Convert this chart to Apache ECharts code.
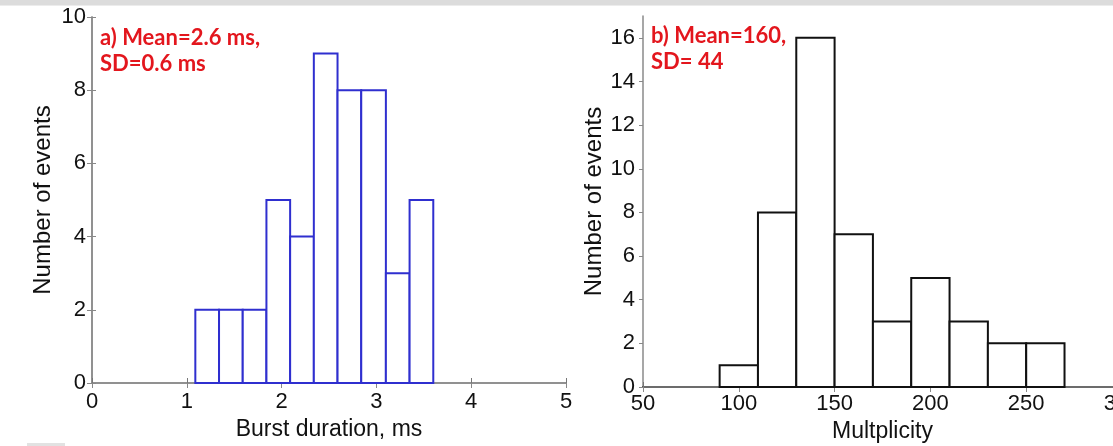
<!DOCTYPE html>
<html>
<head>
<meta charset="utf-8">
<script src="https://cdn.jsdelivr.net/npm/echarts@6/dist/echarts.min.js"></script>
<style>
  html, body { margin: 0; padding: 0; background: #fff; }
  #chart { width: 1113px; height: 446px; }
</style>
</head>
<body>
<div id="chart"></div>
<script>
// ---- Data ----
// Panel a) burst duration histogram
var durationEdges = [1.09, 1.34, 1.59, 1.84, 2.09, 2.34, 2.59, 2.84, 3.10, 3.35, 3.60];
var durationCounts = [2, 2, 2, 5, 4, 9, 8, 8, 3, 5];
var durationTicks = [0, 1, 2, 3, 4, 5];
var countTicksA = [0, 2, 4, 6, 8, 10];
var annotationA = ['a) Mean=2.6 ms,', 'SD=0.6 ms'];
var xNameA = 'Burst duration, ms';

// Panel b) multiplicity histogram
var multEdges = [90, 110, 130, 150, 170, 190, 210, 230, 250, 270];
var multCounts = [1, 8, 16, 7, 3, 5, 3, 2, 2];
var multTicks = [50, 100, 150, 200, 250, 300];
var countTicksB = [0, 2, 4, 6, 8, 10, 12, 14, 16];
var countMaxB = 17;
var annotationB = ['b) Mean=160,', 'SD= 44'];
var xNameB = 'Multplicity';

var yName = 'Number of events';

// ---- Build ----
function bins(edges, counts) {
  var out = [];
  for (var i = 0; i < counts.length; i++) out.push([edges[i], edges[i + 1], counts[i]]);
  return out;
}
function makeRender(color) {
  return function (params, api) {
    var p0 = api.coord([api.value(0), 0]);
    var p1 = api.coord([api.value(1), api.value(2)]);
    return {
      type: 'rect',
      shape: { x: p0[0], y: p1[1], width: p1[0] - p0[0], height: p0[1] - p1[1] },
      style: { fill: '#ffffff', stroke: color, lineWidth: 2 }
    };
  };
}
var FONT = 'Liberation Sans, Arial, sans-serif';
var labelStyle = { color: '#111', fontFamily: FONT, fontSize: 22 };
var nameStyle = { color: '#111', fontFamily: FONT, fontSize: 23 };
var yNameStyle = { color: '#111', fontFamily: FONT, fontSize: 24 };

function xAxes(gi, ticks, name, mainColor, gap, lblMargin) {
  var step = ticks[1] - ticks[0];
  return [{
    type: 'value', gridIndex: gi, min: ticks[0], max: ticks[ticks.length - 1], interval: step,
    name: name, nameLocation: 'middle', nameGap: gap, nameTextStyle: nameStyle,
    axisLine: { show: true, lineStyle: { color: mainColor, width: gi === 0 ? 1.5 : 2 } },
    axisTick: { show: true, inside: true, length: 5, lineStyle: { color: '#777' } },
    axisLabel: Object.assign({ margin: lblMargin }, labelStyle),
    splitLine: { show: false }
  }, {
    type: 'value', gridIndex: gi, position: 'top', min: ticks[0], max: ticks[ticks.length - 1], interval: step,
    axisLine: { show: true, lineStyle: { color: '#8a8a8a', width: 1.5 } },
    axisTick: { show: true, inside: true, length: 5, lineStyle: { color: '#888' } },
    axisLabel: { show: false }, splitLine: { show: false }
  }];
}
function yAxes(gi, ticks, max, tickInside, gap, lblMargin) {
  var step = ticks[1] - ticks[0];
  return [{
    type: 'value', gridIndex: gi, min: ticks[0], max: max, interval: step,
    name: yName, nameLocation: 'middle', nameGap: gap, nameRotate: 90, nameTextStyle: yNameStyle,
    axisLine: { show: true, lineStyle: { color: '#8a8a8a', width: 1.5 } },
    axisTick: { show: true, inside: tickInside, length: 4, lineStyle: { color: '#888' } },
    axisLabel: Object.assign({ margin: lblMargin, showMaxLabel: max === ticks[ticks.length - 1] }, labelStyle),
    splitLine: { show: false }
  }, {
    type: 'value', gridIndex: gi, position: 'right', min: ticks[0], max: max, interval: step,
    axisLine: { show: true, lineStyle: { color: '#8a8a8a', width: 1.5 } },
    axisTick: { show: true, inside: true, length: 5, lineStyle: { color: '#888' } },
    axisLabel: { show: false }, splitLine: { show: false }
  }];
}

var RED = '#e3161d';
var annoStyle = { fontFamily: 'Lato, sans-serif', fontWeight: 'bold', fontSize: 22, fill: RED, lineHeight: 26 };

var option = {
  backgroundColor: '#ffffff',
  animation: false,
  grid: [
    { left: 92, top: 17, width: 474, height: 366, outerBoundsMode: 'none', containLabel: false },
    { left: 643, top: 16, width: 479, height: 371, outerBoundsMode: 'none', containLabel: false }
  ],
  xAxis: [].concat(xAxes(0, durationTicks, xNameA, '#8a8a8a', 35, 8), xAxes(1, multTicks, xNameB, '#111111', 33, 6)),
  yAxis: [].concat(yAxes(0, countTicksA, countTicksA[countTicksA.length - 1], true, 37, 6),
                   yAxes(1, countTicksB, countMaxB, false, 33, 8)),
  series: [
    { type: 'custom', xAxisIndex: 0, yAxisIndex: 0, renderItem: makeRender('#2f2fcf'),
      encode: { x: [0, 1], y: 2 }, data: bins(durationEdges, durationCounts), z: 3 },
    { type: 'custom', xAxisIndex: 2, yAxisIndex: 2, renderItem: makeRender('#111111'),
      encode: { x: [0, 1], y: 2 }, data: bins(multEdges, multCounts), z: 3 }
  ],
  graphic: [
    { type: 'rect', left: 0, top: 0, shape: { width: 1113, height: 5 }, style: { fill: '#dcdcdc' }, silent: true },
    { type: 'rect', left: 0, top: 5, shape: { width: 1113, height: 1 }, style: { fill: '#ececec' }, silent: true },
    { type: 'rect', left: 27, top: 443, shape: { width: 38, height: 3 }, style: { fill: '#e2e2e2' }, silent: true },
    { type: 'text', left: 100, top: 25, z: 10, style: Object.assign({ text: annotationA.join('\n') }, annoStyle) },
    { type: 'text', left: 651, top: 23, z: 10, style: Object.assign({ text: annotationB.join('\n') }, annoStyle) }
  ]
};

var chart = echarts.init(document.getElementById('chart'), null, { renderer: 'canvas' });
chart.setOption(option);
</script>
</body>
</html>
